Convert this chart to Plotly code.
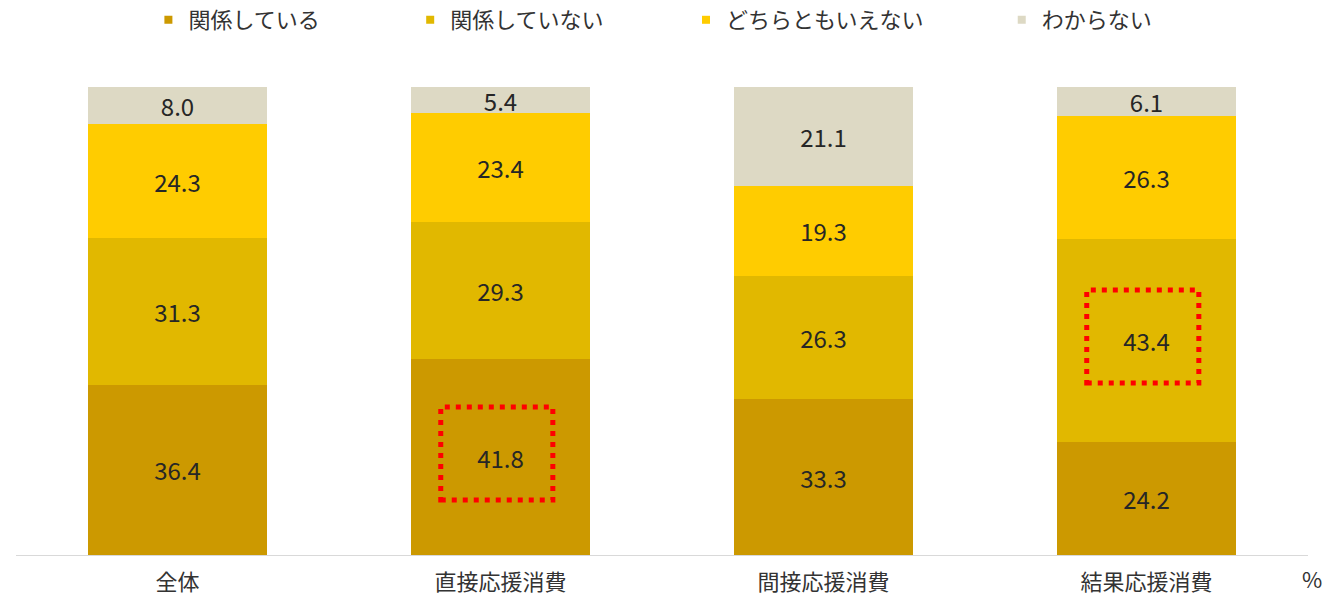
import plotly.graph_objects as go

# Survey results by consumption type (percent)
categories = ["全体", "直接応援消費", "間接応援消費", "結果応援消費"]
series_names = ["関係している", "関係していない", "どちらともいえない", "わからない"]
related = [36.4, 41.8, 33.3, 24.2]
not_related = [31.3, 29.3, 26.3, 43.4]
neither = [24.3, 23.4, 19.3, 26.3]
unknown = [8.0, 5.4, 21.1, 6.1]

# Segments to emphasise: (category index, series index)
highlights = [(1, 0), (3, 1)]

series_values = [related, not_related, neither, unknown]
colors = ["#CC9900", "#E1B800", "#FFCC00", "#DDD9C4"]
legend_text_x = [188, 450, 726, 1042]

W, H = 1330, 596
M_L, M_R, M_T, M_B = 15.5, 21.5, 87, 41
plot_w = W - M_L - M_R

fig = go.Figure()
for i, (name, vals, col) in enumerate(zip(series_names, series_values, colors)):
    lg = "legend" if i == 0 else f"legend{i + 1}"
    fig.add_trace(go.Bar(
        x=categories, y=vals, name=name, marker=dict(color=col, line=dict(width=0)),
        text=[f"{v:.1f}" for v in vals], textposition="inside",
        insidetextanchor="middle", textangle=0, constraintext="none",
        textfont=dict(family="Noto Sans CJK JP", size=24, color="#262626"),
        showlegend=False, hoverinfo="skip",
    ))
    # compact square legend key
    fig.add_trace(go.Scatter(
        x=[None], y=[None], mode="markers", name=name, legend=lg,
        marker=dict(symbol="square", size=8, color=col),
        showlegend=True,
    ))

# dotted red frames around highlighted segments
for ci, si in highlights:
    base = sum(series_values[k][ci] for k in range(si))
    mid = base + series_values[si][ci] / 2
    fig.add_shape(type="rect", xref="x", yref="y",
                  x0=ci - 0.185, x1=ci + 0.162, y0=mid - 9.15, y1=mid + 10.7,
                  line=dict(color="#FF0000", width=5, dash="5px,6px"),
                  fillcolor="rgba(0,0,0,0)", layer="above")

legend_font = dict(family="Noto Sans CJK JP", size=22, color="#333333")
legend_layout = {}
for i, tx in enumerate(legend_text_x):
    key = "legend" if i == 0 else f"legend{i + 1}"
    legend_layout[key] = dict(
        orientation="h", x=(tx - 40 - M_L) / plot_w, xanchor="left",
        y=1 + (M_T - 20) / (H - M_T - M_B), yanchor="middle",
        font=legend_font, itemwidth=30, bgcolor="rgba(0,0,0,0)",
        borderwidth=0, tracegroupgap=0,
    )

fig.add_annotation(text="%", xref="paper", yref="paper",
                   x=(1313 - M_L) / plot_w, y=-(578 - (H - M_B)) / (H - M_T - M_B),
                   showarrow=False, xanchor="center", yanchor="middle",
                   font=dict(family="Noto Sans CJK JP", size=22, color="#333333"))

fig.update_layout(
    width=W, height=H, barmode="stack", bargap=0.443,
    margin=dict(l=M_L, r=M_R, t=M_T, b=M_B, pad=0, autoexpand=False),
    paper_bgcolor="white", plot_bgcolor="white",
    font=dict(family="Noto Sans CJK JP", color="#333333"),
    uniformtext=dict(mode=False),
    **legend_layout,
)
fig.update_xaxes(
    showline=True, linecolor="#D9D9D9", linewidth=1, showgrid=False,
    ticks="outside", ticklen=8, tickcolor="rgba(0,0,0,0)",
    tickfont=dict(family="Noto Sans CJK JP", size=22, color="#333333"),
    automargin=False, fixedrange=True, range=[-0.5, 3.5],
)
fig.update_yaxes(visible=False, range=[0, 100], automargin=False, fixedrange=True)

fig.write_html("out.html", config={"displayModeBar": False})
